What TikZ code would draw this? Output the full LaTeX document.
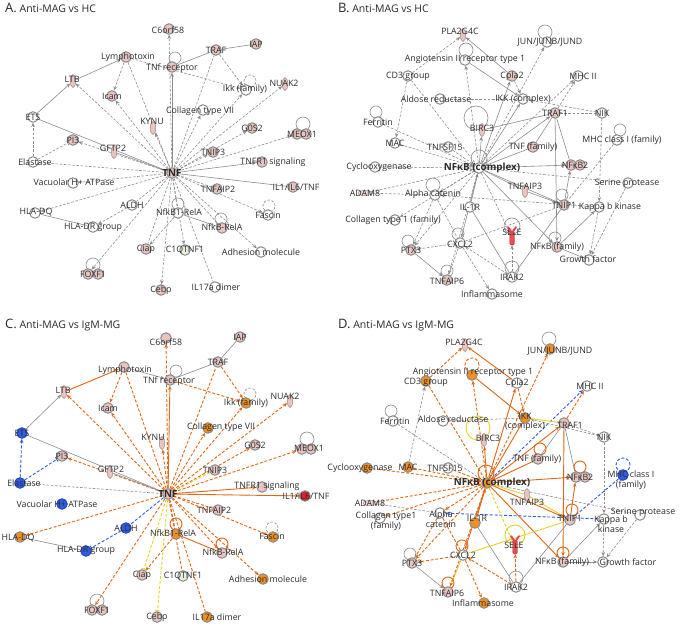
\documentclass[tikz,border=0pt]{standalone}
\usepackage{fontspec}
\setmainfont{Open Sans}
\usetikzlibrary{arrows.meta,calc,backgrounds,shapes.geometric}
\definecolor{eg}{HTML}{8C8C8C}
\definecolor{nb}{HTML}{8A8A8A}
\definecolor{pinkc}{HTML}{E8C5C1}
\definecolor{orgc}{HTML}{F0901F}
\definecolor{oec}{HTML}{DF6716}
\definecolor{bluec}{HTML}{2F5DE3}
\definecolor{redc}{HTML}{E0222C}
\definecolor{yec}{HTML}{E9D12A}
\definecolor{grc}{HTML}{E4F2DC}
\definecolor{txt}{HTML}{2B2B2B}
\tikzset{
 lab/.style={font=\fontsize{8.8}{9.6}\selectfont, text=txt, inner sep=0pt, align=center},
 blab/.style={font=\fontsize{9.8}{10}\selectfont\bfseries, text=txt, inner sep=0pt},
 ttl/.style={anchor=base west, inner sep=0pt, text=txt},
 nc/.style={circle, draw=nb, line width=1pt, minimum size=10.5pt, inner sep=0pt, fill=white},
 pk/.style={nc, fill=pinkc},
 og/.style={nc, fill=orgc},
 bl/.style={nc, fill=bluec, draw=bluec!80!black},
 rd/.style={nc, fill=redc},
 gn/.style={nc, fill=grc},
 vsh/.style={ellipse, draw=pinkc!70!black, fill=pinkc, line width=0.5pt, minimum width=5.5pt, minimum height=13pt, inner sep=0pt},
 hsh/.style={ellipse, draw=pinkc!70!black, fill=pinkc!60, line width=0.5pt, minimum width=14pt, minimum height=5pt, inner sep=0pt},
 sele/.style={rectangle, rounded corners=1.5pt, fill=redc!80, draw=redc!80!black, line width=0.4pt, minimum width=4.5pt, minimum height=14pt, inner sep=0pt},
 ge/.style={draw=eg, line width=0.6pt},
 ged/.style={ge, dash pattern=on 2.6pt off 1.6pt},
 oe/.style={draw=oec, line width=0.9pt},
 oed/.style={oe, dash pattern=on 3pt off 1.8pt},
 bed/.style={draw=bluec, line width=0.9pt, dash pattern=on 3pt off 1.8pt},
 ye/.style={draw=yec, line width=0.9pt},
 yed/.style={ye, dash pattern=on 3pt off 1.8pt},
 ar/.style={-{Stealth[length=4.2pt,width=3.6pt]}},
 tb/.style={-{Bar[width=5pt]}},
}
\newcommand\nd[7]{\node[#4] (#1) at (#2,#3) {}; \node[lab] (#1L) at (#5,#6) {#7};}
\newcommand\lp[5]{\draw[#5] ($(#1)+(#2,#3)$) circle (#4pt);}
\begin{document}
\begin{tikzpicture}[x=1pt,y=-1pt]
\useasboundingbox (0,0) rectangle (680,626);
% titles
\node[ttl] (tA) at (5,13) {\fontsize{13}{13}\selectfont A.\fontsize{10.5}{11}\selectfont\ Anti-MAG vs HC};
\node[ttl] (tB) at (338,13) {\fontsize{13}{13}\selectfont B.\fontsize{10.5}{11}\selectfont\ Anti-MAG vs HC};
\node[ttl] (tC) at (5,328) {\fontsize{13}{13}\selectfont C.\fontsize{10.5}{11}\selectfont\ Anti-MAG vs IgM-MG};
\node[ttl] (tD) at (338,328) {\fontsize{13}{13}\selectfont D.\fontsize{10.5}{11}\selectfont\ Anti-MAG vs IgM-MG};

% ================= PANEL A =================
\nd{aC6}{169}{29}{pk}{168}{30}{C6orf58}
\nd{aTRAF}{216}{50}{pk}{216}{50}{TRAF}
\nd{aIAP}{256}{44}{pk}{256}{44}{IAP}
\nd{aLym}{126}{57}{pk}{128}{57}{Lymphotoxin}
\nd{aTNFR}{172}{67}{pk}{172}{68}{TNf receptor}
\nd{aLTB}{73}{81}{vsh}{72}{79}{LTB}
\nd{aIkk}{246}{90}{nc}{245}{89}{Ikk (family)}
\nd{aNUAK}{285}{84}{vsh}{284}{83}{NUAK2}
\nd{aIcam}{112}{96}{pk}{112}{96}{Icam}
\nd{aColl}{203}{110}{nc}{200}{111}{Collagen type VII}
\nd{aKYNU}{153}{128}{vsh}{152}{121}{KYNU}
\nd{aETS}{33}{117}{nc}{33}{117}{ETS}
\nd{aG0S2}{252}{128}{pk}{252}{128}{G0S2}
\node[pk] (aMEOX) at (297,134) {}; \node[pk] (aMEOXb) at (306,134) {}; \node[lab] (aMEOXL) at (302,134) {MEOX1};
\nd{aPI3}{73}{140}{pk}{73}{140}{PI3}
\nd{aGFTP}{114}{152}{vsh}{113}{148}{GFTP2}
\nd{aTNIP3}{213}{152}{pk}{213}{152}{TNIP3}
\nd{aEla}{33}{162}{nc}{35}{162}{Elastase}
\node[pk] (aTNF) at (172,173) {}; \node[blab] (aTNFL) at (172,173) {TNF};
\nd{aTNFR1}{262}{162}{pk}{273}{162}{TNFR1 signaling}
\nd{aVac}{73}{183}{nc}{74}{182}{Vacuolar H+ ATPase}
\nd{aTNFAIP2}{217}{189}{pk}{218}{189}{TNFAIP2}
\nd{aIL1}{293}{187}{pk}{296}{187}{IL1/IL6/TNF}
\nd{aALDH}{132}{205}{nc}{132}{205}{ALDH}
\nd{aHLADQ}{35}{213}{nc}{36}{212}{HLA-DQ}
\nd{aNf1}{178}{213}{nc}{179}{212}{NfkB1-RelA}
\nd{aFas}{268}{215}{nc}{268}{215}{Fascin}
\nd{aHLADR}{93}{227}{nc}{93}{227}{HLA-DR group}
\nd{aNfR}{222}{228}{pk}{222}{227}{NfkB-RelA}
\nd{aCiap}{146}{249}{pk}{146}{249}{Ciap}
\nd{aC1Q}{185}{250}{gn}{185}{250}{C1QTNF1}
\nd{aAdh}{261}{252}{nc}{261}{252}{Adhesion molecule}
\node[pk] (aFOX) at (88,274) {}; \node[pk] (aFOXb) at (98,274) {}; \node[lab] (aFOXL) at (93,274) {FOXF1};
\nd{aCebp}{161}{290}{pk}{161}{290}{Cebp}
\nd{aIL17}{215}{287}{nc}{216}{287}{IL17a dimer}

% ================= PANEL C =================
\nd{cC6}{166}{338}{pk}{166}{342}{C6orf58}
\nd{cIAP}{240}{337}{pk}{240}{337}{IAP}
\nd{cTRAF}{218}{362}{pk}{218}{362}{TRAF}
\nd{cLym}{124}{367}{pk}{125}{370}{Lymphotoxin}
\nd{cTNFR}{170}{380}{pk}{169}{381}{TNf receptor}
\nd{cLTB}{64}{392}{vsh}{63}{390}{LTB}
\nd{cIkk}{246}{403}{og}{246}{403}{Ikk (family)}
\nd{cNUAK}{290}{401}{vsh}{285}{396}{NUAK2}
\nd{cIcam}{108}{408}{pk}{108}{408}{Icam}
\nd{cColl}{208}{428}{og}{221}{427}{Collagen type VII}
\nd{cKYNU}{162}{443}{vsh}{153}{437}{KYNU}
\nd{cETS}{22}{433}{bl}{22}{433}{ETS}
\nd{cG0S2}{255}{445}{pk}{255}{445}{G0S2}
\node[pk] (cMEOX) at (302,449) {}; \node[pk] (cMEOXb) at (311,449) {}; \node[lab] (cMEOXL) at (309,448) {MEOX1};
\nd{cPI3}{62}{456}{pk}{62}{456}{PI3}
\nd{cGFTP}{110}{472}{vsh}{111}{469}{GFTP2}
\nd{cTNIP3}{215}{470}{pk}{215}{470}{TNIP3}
\nd{cEla}{20}{483}{bl}{24}{483}{Elastase}
\node[pk] (cTNF) at (168,494) {}; \node[blab] (cTNFL) at (168,494) {TNF};
\nd{cTNFR1}{262}{487}{pk}{267}{486}{TNFR1 signaling}
\nd{cIL1}{305}{496}{rd}{306}{496}{IL1/IL6/TNF}
\nd{cVac}{62}{504}{bl}{57}{504}{Vacuolar H+ ATPase}
\nd{cTNFAIP2}{218}{510}{pk}{214}{510}{TNFAIP2}
\nd{cALDH}{126}{528}{bl}{126}{528}{ALDH}
\nd{cHLADQ}{20}{537}{og}{18}{538}{HLA-DQ}
\nd{cNf1}{176}{534}{og}{173}{533}{NfkB1-RelA}
\nd{cFas}{273}{537}{og}{272}{536}{Fascin}
\nd{cHLADR}{86}{551}{bl}{86}{550}{HLA-DR group}
\nd{cNfR}{222}{553}{pk}{223}{552}{NfkB-RelA}
\nd{cCiap}{142}{575}{pk}{142}{575}{Ciap}
\nd{cC1Q}{183}{576}{gn}{183}{576}{C1QTNF1}
\nd{cAdh}{263}{579}{og}{268}{579}{Adhesion molecule}
\node[pk] (cFOX) at (92,610) {}; \node[pk] (cFOXb) at (102,610) {}; \node[lab] (cFOXL) at (97,610) {FOXF1};
\nd{cCebp}{157}{617}{pk}{157}{617}{Cebp}
\nd{cIL17}{207}{617}{og}{217}{617}{IL17a dimer}

% ================= PANEL B =================
\nd{bPLA}{463}{35}{vsh}{460}{31}{PLA2G4C}
\nd{bJUN}{547}{42}{nc}{550}{42}{JUN/JUNB/JUND}
\nd{bAng}{465}{60}{nc}{465}{59}{Angiotensin II receptor type 1}
\nd{bCD3}{408}{76}{nc}{408}{76}{CD3 group}
\nd{bCpla}{512}{76}{pk}{512}{76}{Cpla2}
\nd{bMHCII}{578}{76}{nc}{583}{76}{MHC II}
\nd{bAld}{440}{99}{nc}{436}{99}{Aldose reductase}
\nd{bIKK}{523}{99}{nc}{523}{99}{IKK (complex)}
\nd{bTRAF1}{555}{113}{pk}{555}{113}{TRAF1}
\nd{bNIK}{602}{113}{nc}{602}{113}{NIK}
\nd{bFer}{378}{122}{nc}{378}{122}{Ferritin}
\nd{bBIRC}{482}{130}{vsh}{482}{128}{BIRC3}
\nd{bMAC}{395}{143}{nc}{395}{143}{MAC}
\nd{bTNFSF}{448}{147}{nc}{445}{147}{TNFSF15}
\nd{bTNFf}{533}{147}{pk}{533}{147}{TNF (family)}
\nd{bMHCI}{617}{140}{nc}{622}{140}{MHC class I (family)}
\nd{bCyc}{375}{167}{nc}{379}{167}{Cyclooxygenase}
\node[nc] (bNFkB) at (479,168) {}; \node[blab] (bNFkBL) at (482,168) {NFκB (complex)};
\node[pk] (bNFkB2) at (571,165) {}; \node[pk] (bNFkB2b) at (580,165) {}; \node[lab] (bNFkB2L) at (575,165) {NFκB2};
\nd{bTNFAIP3}{525}{191}{vsh}{525}{186}{TNFAIP3}
\nd{bSer}{628}{183}{nc}{627}{183}{Serine protease}
\nd{bADAM}{365}{193}{hsh}{365}{193}{ADAM8}
\nd{bAlpha}{435}{195}{nc}{433}{194}{Alpha catenin}
\nd{bIL1R}{470}{207}{nc}{470}{207}{IL-1R}
\nd{bTNIP1}{564}{205}{pk}{564}{205}{TNIP1}
\nd{bKbk}{599}{207}{nc}{610}{207}{Kappa b kinase}
\nd{bColl}{395}{220}{nc}{393}{220}{Collagen type 1 (family)}
\nd{bSELE}{512}{238}{sele}{512}{232}{SELE}
\nd{bPTX3}{411}{250}{pk}{411}{250}{PTX3}
\nd{bCXCL2}{460}{243}{nc}{460}{244}{CXCL2}
\nd{bNFkBf}{557}{247}{pk}{557}{247}{NFκB (family)}
\nd{bGF}{589}{260}{nc}{588}{259}{Growth factor}
\nd{bTNFAIP6}{447}{280}{pk}{447}{281}{TNFAIP6}
\nd{bIRAK2}{512}{277}{nc}{512}{277}{IRAK2}
\nd{bInfl}{492}{294}{nc}{492}{294}{Inflammasome}

% ================= PANEL D =================
\nd{dPLA}{465}{345}{vsh}{464}{342}{PLA2G4C}
\nd{dJUN}{550}{349}{og}{560}{351}{JUN/JUNB/JUND}
\nd{dAng}{472}{375}{og}{473}{372}{Angiotensin II receptor type 1}
\nd{dCD3}{426}{381}{og}{426}{382}{CD3 group}
\nd{dCpla}{517}{383}{nc}{517}{383}{Cpla2}
\nd{dMHCII}{587}{386}{nc}{590}{386}{MHC II}
\nd{dFer}{393}{421}{nc}{395}{421}{Ferritin}
\nd{dAld}{443}{421}{nc}{453}{419}{Aldose reductase}
\nd{dIKK}{525}{418}{og}{525}{422}{IKK\\(complex)}
\nd{dTRAF1}{564}{423}{pk}{570}{425}{TRAF1}
\nd{dNIK}{604}{437}{nc}{604}{437}{NIK}
\nd{dBIRC}{484}{440}{vsh}{488}{438}{BIRC3}
\nd{dTNFf}{538}{459}{pk}{537}{459}{TNF (family)}
\nd{dCyc}{367}{468}{og}{360}{468}{Cyclooxygenase}
\nd{dMAC}{408}{467}{og}{408}{467}{MAC}
\nd{dTNFSF}{448}{468}{nc}{445}{468}{TNFSF15}
\node[og] (dNFkB) at (487,483) {}; \node[blab] (dNFkBL) at (492,483) {NFκB (complex)};
\node[pk] (dNFkB2) at (576,477) {}; \node[pk] (dNFkB2b) at (585,477) {}; \node[lab] (dNFkB2L) at (580,477) {NFκB2};
\nd{dMHCI}{623}{475}{bl}{631}{480}{MHC class I\\(family)}
\nd{dADAM}{370}{503}{hsh}{370}{503}{ADAM8}
\nd{dTNFAIP3}{527}{495}{vsh}{527}{502}{TNFAIP3}
\nd{dColl}{380}{518}{nc}{386}{521}{Collagen type1\\(family)}
\nd{dAlpha}{440}{513}{nc}{441}{519}{Alpha\\catenin}
\nd{dIL1R}{475}{523}{og}{477}{518}{IL-1R}
\nd{dTNIP1}{570}{520}{pk}{570}{518}{TNIP1}
\nd{dKbk}{604}{519}{nc}{611}{524}{Kappa b\\kinase}
\nd{dSer}{640}{515}{nc}{643}{512}{Serine protease}
\nd{dSELE}{515}{547}{sele}{514}{545}{SELE}
\nd{dCXCL2}{463}{555}{nc}{463}{555}{CXCL2}
\nd{dPTX3}{412}{563}{pk}{412}{563}{PTX3}
\nd{dNFkBf}{563}{562}{pk}{562}{562}{NFκB (family)}
\nd{dGF}{603}{562}{nc}{628}{562}{Growth factor}
\nd{dTNFAIP6}{448}{592}{pk}{447}{593}{TNFAIP6}
\nd{dIRAK2}{516}{587}{nc}{516}{587}{IRAK2}
\nd{dInfl}{484}{603}{og}{483}{603}{Inflammasome}

% SELE arms
\draw[redc!85, line width=1.8pt, line cap=round] ($(bSELE)+(-4,-11)$) -- ($(bSELE)+(0,-5)$) -- ($(bSELE)+(4,-11)$);
\draw[redc!85, line width=1.8pt, line cap=round] ($(dSELE)+(-4,-11)$) -- ($(dSELE)+(0,-5)$) -- ($(dSELE)+(4,-11)$);

\begin{scope}[on background layer]
\fill[white] (0,0) rectangle (680,626);
% ---------- A edges ----------
\draw[ged,ar] (aTNF) -- (aC6);
\draw[ge,ar] (aTNF) -- (aTNFR);
\draw[ged] (aTNF) -- (aTRAF);
\draw[ge] (aTRAF) -- (aIAP);
\draw[ge] (aTRAF) -- (aTNFR);
\draw[ged,ar] (aTRAF) -- (aIkk);
\draw[ge,ar] (aLTB) -- (aLym);
\draw[ged,ar] (aLym) -- (aIcam);
\draw[ged,ar] (aLym) -- (aIkk);
\draw[ged] (aLym) -- (aTNF);
\draw[ged,ar] (aTNF) -- (aLTB);
\draw[ged,ar] (aTNF) -- (aIcam);
\draw[ged,ar] (aTNF) -- (aIkk);
\draw[ged,ar] (aTNF) -- (aNUAK);
\draw[ged,ar] (aTNF) -- (aKYNU);
\draw[ged,ar] (aTNF) -- (aColl);
\draw[ged,ar] (aTNF) -- (aG0S2);
\draw[ged,ar] (aTNF) -- (aMEOX);
\draw[ged,ar] (aTNF) -- (aTNIP3);
\draw[ge,ar] (aETS) -- (aLTB);
\draw[ge] (aETS) -- (aTNF);
\draw[ged,ar] (aEla) -- (aETS);
\draw[ged,tb] (aEla) -- (aPI3);
\draw[ged,ar] (aTNF) -- (aPI3);
\draw[ge] (aGFTP) -- (aTNF);
\draw[ged] (aEla) -- (aTNF);
\draw[ged] (aVac) -- (aTNF);
\draw[ge,ar] (aTNF) -- (aTNFR1);
\draw[ge] (aTNF) -- (aIL1);
\draw[ged] (aTNF) -- (aTNFAIP2);
\draw[ged,ar] (aTNF) -- (aFas);
\draw[ged,ar] (aTNF) -- (aHLADQ);
\draw[ge] (aHLADQ) -- (aHLADR);
\draw[ged,ar] (aALDH) -- (aHLADR);
\draw[ged] (aTNF) -- (aALDH);
\draw[ged,ar] (aTNF) -- (aFOX);
\draw[ged,ar] (aNf1) -- (aCiap);
\draw[ged] (aTNF) -- (aCiap);
\draw[ged,ar] (aTNF) -- (aC1Q);
\draw[ged,ar] (aTNF) -- (aCebp);
\draw[ged] (aTNF) -- (aIL17);
\draw[ged] (aTNF) -- (aNfR);
\draw[ge] (aNf1) -- (aNfR);
\draw[ged,ar] (aTNF) -- (aAdh);
\draw[ged] (aTNF) -- (aNf1);
\lp{aTNFR}{3}{-9}{6}{ge}
\lp{aIkk}{4}{-9}{6}{ged}
\lp{aMEOX}{6}{-10}{7}{ge}
\lp{aNf1}{0}{-9}{6}{ge}
\lp{aFas}{1}{-9}{6}{ged}
\lp{aNfR}{-1}{-9}{6}{ge}
\lp{aFOX}{5}{-9}{7}{ge}
% ---------- C edges ----------
\draw[oed,ar] (cTNF) -- (cC6);
\draw[oe,ar] (cTNF) -- (cTNFR);
\draw[oed] (cTNF) -- (cTRAF);
\draw[ge] (cTRAF) -- (cIAP);
\draw[ge] (cTRAF) -- (cTNFR);
\draw[oed,ar] (cTRAF) -- (cIkk);
\draw[oed,ar] (cTNFR) -- (cIkk);
\draw[ge,ar] (cLym) -- (cTNFR);
\draw[oe,ar] (cLTB) -- (cLym);
\draw[oed,ar] (cLym) -- (cIcam);
\draw[oed] (cLym) -- (cTNF);
\draw[oed,ar] (cTNF) -- (cLTB);
\draw[oed,ar] (cTNF) -- (cIcam);
\draw[oed,ar] (cTNF) -- (cIkk);
\draw[oed,ar] (cTNF) -- (cNUAK);
\draw[oed,ar] (cTNF) -- (cKYNU);
\draw[oed,ar] (cTNF) -- (cColl);
\draw[oed,ar] (cTNF) -- (cG0S2);
\draw[oed,ar] (cTNF) -- (cMEOX);
\draw[yed] (cTNF) -- (cTNIP3);
\draw[ge,ar] (cETS) -- (cLTB);
\draw[ge] (cETS) -- (cTNF);
\draw[bed,ar] (cEla) -- (cETS);
\draw[bed,tb] (cEla) -- (cPI3);
\draw[oed,ar] (cTNF) -- (cPI3);
\draw[ge] (cGFTP) -- (cTNF);
\draw[ged] (cEla) -- (cTNF);
\draw[oe,ar] (cTNF) -- (cTNFR1);
\draw[oe,ar] (cTNF) -- (cIL1);
\draw[oed] (cTNF) -- (cTNFAIP2);
\draw[oed,ar] (cTNF) -- (cFas);
\draw[oed,ar] (cTNF) -- (cHLADQ);
\draw[ge] (cHLADQ) -- (cHLADR);
\draw[bed,tb] (cALDH) -- (cHLADR);
\draw[bed] (cTNF) -- (cALDH);
\draw[oed,ar] (cTNF) -- (cFOX);
\draw[oed,ar] (cNf1) -- (cCiap);
\draw[yed,tb] (cTNF) -- (cCiap);
\draw[oed] (cTNF) -- (cC1Q);
\draw[yed,tb] (cTNF) -- (cCebp);
\draw[oed] (cTNF) -- (cIL17);
\draw[oe] (cNf1) -- (cNfR);
\draw[oed,ar] (cTNF) -- (cNfR);
\draw[oed,ar] (cTNF) -- (cAdh);
\draw[oed] (cTNF) -- (cNf1);
\lp{cTNFR}{6}{-9}{6}{ge}
\lp{cIkk}{4}{-9}{6}{ged}
\lp{cMEOX}{5}{-10}{7}{ge}
\lp{cNf1}{0}{-10}{6}{oe}
\lp{cFas}{-1}{-9}{6}{ged}
\lp{cNfR}{0}{-9}{6}{oe}
\lp{cFOX}{5}{-9}{7}{ge}
% ---------- B edges ----------
\draw[ged,ar] (bCD3) -- (bPLA);
\draw[ge,ar] (bCpla) -- (bPLA);
\draw[ged,ar] (bNFkB) -- (bJUN);
\draw[ge,ar] (bAng) -- (bIKK);
\draw[ged,ar] (bNFkB) -- (bAng);
\draw[ged] (bCD3) -- (bNFkB);
\draw[ge,ar] (bNFkB) -- (bCpla);
\draw[ged,ar] (bCpla) -- (bIKK);
\draw[ged] (bAld) -- (bIKK);
\draw[ged,ar] (bTRAF1) -- (bMHCII);
\draw[ged,ar] (bNFkB) -- (bMHCII);
\draw[ged] (bNIK) -- (bTRAF1);
\draw[ged,ar] (bNIK) -- (bIKK);
\draw[ged,ar] (bNIK) -- (bKbk);
\draw[ged] (bFer) -- (bNFkB);
\draw[ged,ar] (bCD3) -- (bMAC);
\draw[ged,ar] (bMAC) -- (bNFkB);
\draw[ged] (bCyc) -- (bNFkB);
\draw[ge,ar] (bNFkB) -- (bBIRC);
\draw[ge] (bBIRC) -- (bTRAF1);
\draw[ge,ar] (bTNFf) -- (bNFkB);
\draw[ge] (bTNFf) -- (bTRAF1);
\draw[ged,ar] (bTNFSF) -- (bNFkB);
\draw[ge,ar] (bNFkB) -- (bNFkB2);
\draw[ge] (bNFkB) -- (bTNFAIP3);
\draw[ged] (bMHCI) -- (bTNIP1);
\draw[ged,ar] (bKbk) -- (bAlpha);
\draw[ged,ar] (bADAM) -- (bNFkB);
\draw[ged,ar] (bNFkB) -- (bColl);
\draw[ged,ar] (bNFkB) -- (bAlpha);
\draw[ge,ar] (bIL1R) -- (bNFkB);
\draw[ged,ar] (bNFkB) -- (bSELE);
\draw[ge] (bTNFAIP3) -- (bTNIP1);
\draw[ged,ar] (bNFkB) -- (bPTX3);
\draw[ge,ar] (bNFkB) -- (bCXCL2);
\draw[ged,ar] (bCXCL2) -- (bPTX3);
\draw[ge,ar] (bPTX3) -- (bTNFAIP6);
\draw[ged] (bCXCL2) -- (bTNFAIP6);
\draw[ged,ar] (bIRAK2) -- (bSELE);
\draw[ged,ar] (bIRAK2) -- (bCXCL2);
\draw[ge] (bIRAK2) -- (bIL1R);
\draw[ged,ar] (bCXCL2) -- (bInfl);
\draw[ge,ar] (bNFkB) -- (bNFkBf);
\draw[ge,ar] (bNFkBf) -- (bGF);
\draw[ged,ar] (bKbk) -- (bGF);
\draw[ged,ar] (bSer) -- (bGF);
\draw[ge,ar] (bNFkBf) -- (bKbk);
\draw[ged] (bTNIP1) -- (bCXCL2);
\draw[ged] (bNFkB) -- (bSer);
\draw[ge,ar] (bTNIP1) -- (bNFkB2);
\draw[ge,ar] (bTRAF1) -- (bNFkBf);
\draw[ge,ar] (bNFkB) -- (bTRAF1);
\draw[ge,ar] (bNFkB) -- (bIKK);
\draw[ge] (bTRAF1) -- (bNFkB2);
\draw[ged,ar] (bAlpha) -- (bPTX3);
\draw[ged] (bAlpha) -- (bCXCL2);
\draw[ge] (bIRAK2) -- (bTNIP1);
\draw[ge,ar] (bNFkB) -- (bTNIP1);
\draw[ged,ar] (bNFkB) -- (bTNFAIP6);
\draw[ged] (bADAM) -- (bAlpha);
\lp{bJUN}{-2}{-10}{7}{ge}
\lp{bAng}{1}{-10}{7}{ge}
\lp{bFer}{-2}{-10}{6}{ge}
\lp{bBIRC}{-6}{-12}{12}{ge}
\lp{bMHCI}{3}{-10}{6}{ge}
\lp{bAlpha}{-2}{-10}{7}{ge}
\lp{bTNIP1}{-2}{-10}{6}{ge}
\lp{bSELE}{0}{-12}{8}{ge}
\lp{bPTX3}{-3}{-9}{6}{ge}
\lp{bCXCL2}{-2}{-9}{6}{ge}
\lp{bNFkBf}{-2}{-9}{6}{ge}
\lp{bTNFAIP6}{0}{-9}{6}{ge}
\lp{bIRAK2}{0}{-9}{7}{ge}
\lp{bNFkB}{0}{-10}{8}{ge}
% ---------- D edges ----------
\draw[oed,ar] (dCD3) -- (dPLA);
\draw[oe,ar] (dCpla) -- (dPLA);
\draw[oed,ar] (dNFkB) -- (dJUN);
\draw[oe,ar] (dAng) -- (dIKK);
\draw[oed,ar] (dNFkB) -- (dAng);
\draw[oed] (dCD3) -- (dNFkB);
\draw[oe,ar] (dNFkB) -- (dCpla);
\draw[oed,ar] (dCpla) -- (dIKK);
\draw[ged] (dAld) -- (dIKK);
\draw[oed,ar] (dTRAF1) -- (dMHCII);
\draw[bed,ar] (dNFkB) -- (dMHCII);
\draw[ged] (dNIK) -- (dTRAF1);
\draw[ged,ar] (dNIK) -- (dIKK);
\draw[ged,ar] (dNIK) -- (dKbk);
\draw[ged] (dFer) -- (dNFkB);
\draw[ged,ar] (dMAC) -- (dCD3);
\draw[oed,ar] (dMAC) -- (dNFkB);
\draw[oed] (dCyc) -- (dNFkB);
\draw[oe,ar] (dNFkB) -- (dBIRC);
\draw[ye] (dIKK) -- (dTRAF1);
\draw[oe,ar] (dTNFf) -- (dNFkB);
\draw[ge] (dTNFf) -- (dTRAF1);
\draw[oed,ar] (dTNFSF) -- (dNFkB);
\draw[oe,ar] (dNFkB) -- (dNFkB2);
\draw[ye] (dNFkB) -- (dTNFAIP3);
\draw[bed] (dMHCI) -- (dTNIP1);
\draw[bed,ar] (dKbk) -- (dAlpha);
\draw[oed,ar] (dADAM) -- (dNFkB);
\draw[oed,ar] (dNFkB) -- (dColl);
\draw[oed,ar] (dNFkB) -- (dAlpha);
\draw[oe,ar] (dIL1R) -- (dNFkB);
\draw[yed,ar] (dNFkB) -- (dSELE);
\draw[ye] (dTNFAIP3) -- (dTNIP1);
\draw[oed,ar] (dNFkB) -- (dPTX3);
\draw[oe,ar] (dNFkB) -- (dCXCL2);
\draw[oed,ar] (dCXCL2) -- (dPTX3);
\draw[ge,ar] (dPTX3) -- (dTNFAIP6);
\draw[ye] (dCXCL2) -- (dTNFAIP6);
\draw[oed,ar] (dIRAK2) -- (dSELE);
\draw[oed,ar] (dIRAK2) -- (dCXCL2);
\draw[ge] (dIRAK2) -- (dIL1R);
\draw[oed,ar] (dCXCL2) -- (dInfl);
\draw[oe,ar] (dNFkB) -- (dNFkBf);
\draw[ge,ar] (dNFkBf) -- (dGF);
\draw[ged,ar] (dKbk) -- (dGF);
\draw[ged,ar] (dSer) -- (dGF);
\draw[ge,ar] (dNFkBf) -- (dKbk);
\draw[ye] (dTNIP1) -- (dCXCL2);
\draw[ged] (dNFkB) -- (dSer);
\draw[oe,ar] (dTNIP1) -- (dNFkB2);
\draw[oe,ar] (dTRAF1) -- (dNFkBf);
\draw[oe,ar] (dNFkB) -- (dTRAF1);
\draw[oe,ar] (dNFkB) -- (dIKK);
\draw[ge] (dTRAF1) -- (dNFkB2);
\draw[oed,ar] (dAlpha) -- (dPTX3);
\draw[oed] (dAlpha) -- (dCXCL2);
\draw[ge] (dIRAK2) -- (dTNIP1);
\draw[oe,ar] (dNFkB) -- (dTNIP1);
\draw[oed,ar] (dNFkB) -- (dTNFAIP6);
\draw[ged] (dADAM) -- (dAlpha);
\lp{dJUN}{-1}{-10}{7}{ge}
\lp{dAng}{0}{-10}{7}{oed}
\lp{dFer}{-2}{-10}{6}{ge}
\lp{dBIRC}{-6}{-12}{12}{ye}
\lp{dTNFf}{2}{-10}{6}{oe}
\lp{dNFkB2}{4}{-10}{6}{oe}
\lp{dMHCI}{0}{-10}{7}{bed}
\lp{dTNIP1}{2}{-10}{6}{oe}
\lp{dSELE}{0}{-12}{10}{ye}
\lp{dPTX3}{-2}{-9}{6}{ge}
\lp{dCXCL2}{-1}{-9}{6}{oe}
\lp{dNFkBf}{0}{-9}{6}{oe}
\lp{dTNFAIP6}{0}{-9}{6}{oe}
\lp{dIRAK2}{0}{-9}{7}{ge}
\lp{dNFkB}{-1}{-10}{8}{oe}
\end{scope}
\end{tikzpicture}
\end{document}
